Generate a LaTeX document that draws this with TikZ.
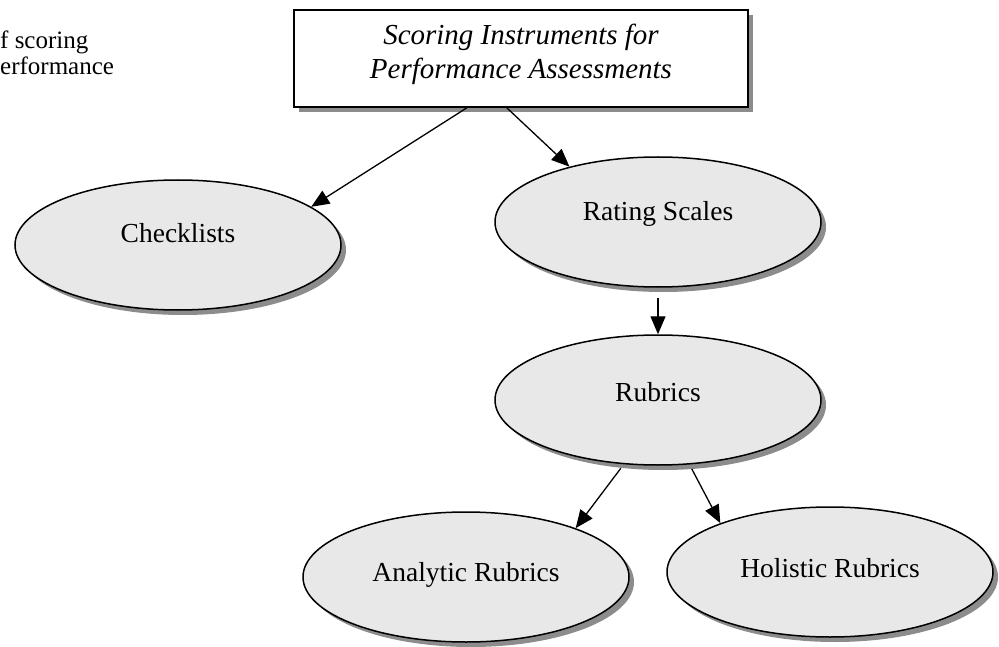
\documentclass[tikz,border=0pt]{standalone}
\usepackage{fontspec}
\setmainfont{Liberation Serif}
\usetikzlibrary{shapes.geometric,shadows,arrows.meta,calc}
\tikzset{
  oval/.style={ellipse, draw=black, line width=1.5pt, fill=gray!18, inner sep=0pt,
    minimum width=326pt, minimum height=130pt,
    drop shadow={shadow xshift=5pt, shadow yshift=-5pt, fill=gray!90, opacity=1}},
  txt/.style={font=\fontsize{27.5}{32}\selectfont, inner sep=0pt},
  captxt/.style={anchor=base west, inner sep=0pt, font=\fontsize{25}{29}\selectfont},
  headbox/.style={draw=black, line width=1.8pt, fill=white, minimum width=454pt, minimum height=97pt, inner sep=0pt,
    drop shadow={shadow xshift=5pt, shadow yshift=-5pt, fill=gray!90, opacity=1}},
  conn/.style={line width=1.3pt, -{Triangle[length=18pt,width=15pt]}}
}
\begin{document}
\begin{tikzpicture}[x=1pt,y=-1pt]
\useasboundingbox (0,0) rectangle (999,647);
% cropped caption
\node[captxt] (cap1) at (0,49) {f scoring};
\node[captxt] (cap2) at (0,75) {erformance};
% top box
\node[headbox] (top) at (521,58.5) {};
\node[txt, align=center, font=\fontsize{29}{34}\itshape\selectfont] (topt) at (521,54) {Scoring Instruments for\\Performance Assessments};
% ellipses
\node[oval] (check) at (178,245) {};
\node[txt] (checkt) at ([yshift=12pt]check.center) {Checklists};
\node[oval] (rate) at (658,222) {};
\node[txt] (ratet) at ([yshift=8pt]rate.center) {Rating Scales};
\node[oval] (rub) at (658,400) {};
\node[txt] (rubt) at ([yshift=8pt]rub.center) {Rubrics};
\node[oval] (ana) at (466,577) {};
\node[txt] (anat) at ([yshift=2pt]ana.center) {Analytic Rubrics};
\node[oval] (hol) at (830,572) {};
\node[txt] (holt) at ([yshift=4pt]hol.center) {Holistic Rubrics};
% connectors
\coordinate (s1) at ($(top.south west)!0.381!(top.south east)$);
\coordinate (s2) at ($(top.south west)!0.469!(top.south east)$);
\draw[conn] (s1) -- (check.16);
\draw[conn] (s2) -- (rate.148);
\draw[conn, shorten <=10pt] (rate.south) -- (rub.north);
\draw[conn, shorten <=5pt] (rub.-118) -- (ana.24);
\draw[conn, shorten <=5pt] (rub.-64) -- (hol.156);
\end{tikzpicture}
\end{document}
